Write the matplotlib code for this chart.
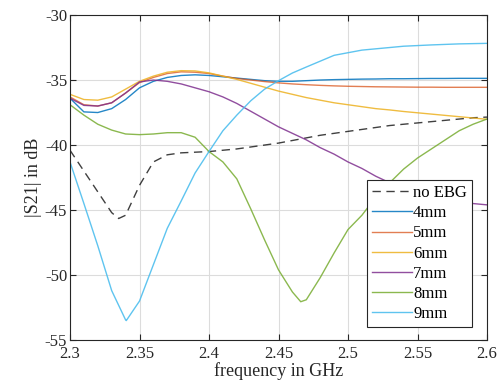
import matplotlib
matplotlib.use("Agg")
import matplotlib.pyplot as plt
import numpy as np

# frequency grid (GHz) and |S21| readings (dB)
freq = [2.30, 2.31, 2.32, 2.33, 2.34, 2.35, 2.36, 2.37, 2.38, 2.39, 2.40,
        2.41, 2.42, 2.43, 2.44, 2.45, 2.46, 2.47, 2.48, 2.49, 2.50,
        2.51, 2.52, 2.53, 2.54, 2.55, 2.56, 2.57, 2.58, 2.59, 2.60]

no_ebg_f = [2.30, 2.31, 2.32, 2.33, 2.335, 2.34, 2.35, 2.36, 2.37, 2.38, 2.39, 2.40,
            2.41, 2.42, 2.43, 2.44, 2.45, 2.46, 2.47, 2.48, 2.49, 2.50,
            2.51, 2.52, 2.53, 2.54, 2.55, 2.56, 2.57, 2.58, 2.59, 2.60]
no_ebg = [-40.4, -42.0, -43.6, -45.2, -45.65, -45.4, -43.1, -41.3, -40.75, -40.6, -40.55, -40.5,
          -40.4, -40.3, -40.15, -40.0, -39.85, -39.65, -39.45, -39.25, -39.1, -38.95,
          -38.8, -38.65, -38.5, -38.4, -38.3, -38.2, -38.1, -38.0, -37.9, -37.85]

s4 = [-36.4, -37.45, -37.5, -37.2, -36.5, -35.6, -35.1, -34.8, -34.65, -34.6, -34.65,
      -34.75, -34.85, -34.95, -35.05, -35.1, -35.1, -35.05, -35.0, -34.97, -34.95,
      -34.93, -34.92, -34.9, -34.9, -34.89, -34.88, -34.88, -34.87, -34.87, -34.87]
s5 = [-36.3, -36.9, -37.0, -36.75, -36.0, -35.2, -34.8, -34.5, -34.37, -34.4, -34.5,
      -34.7, -34.88, -35.0, -35.12, -35.22, -35.3, -35.36, -35.41, -35.45, -35.48,
      -35.5, -35.52, -35.53, -35.54, -35.55, -35.55, -35.56, -35.56, -35.56, -35.56]
s6 = [-36.1, -36.5, -36.55, -36.3, -35.7, -35.1, -34.7, -34.4, -34.28, -34.3, -34.45,
      -34.7, -34.95, -35.25, -35.55, -35.85, -36.1, -36.35, -36.55, -36.75, -36.9,
      -37.05, -37.2, -37.3, -37.42, -37.52, -37.62, -37.72, -37.82, -37.92, -38.02]
s7 = [-36.4, -36.95, -37.0, -36.75, -36.0, -35.15, -35.0, -35.1, -35.3, -35.6, -35.9,
      -36.3, -36.8, -37.4, -38.0, -38.6, -39.1, -39.6, -40.2, -40.7, -41.3,
      -41.8, -42.4, -42.9, -43.3, -43.6, -43.85, -44.1, -44.3, -44.5, -44.6]

s8_f = [2.30, 2.31, 2.32, 2.33, 2.34, 2.35, 2.36, 2.37, 2.38, 2.39, 2.40,
        2.41, 2.42, 2.43, 2.44, 2.45, 2.46, 2.466, 2.47, 2.48, 2.49, 2.50,
        2.51, 2.52, 2.53, 2.54, 2.55, 2.56, 2.57, 2.58, 2.59, 2.60]
s8 = [-36.9, -37.7, -38.4, -38.85, -39.15, -39.2, -39.15, -39.05, -39.05, -39.4, -40.5,
      -41.3, -42.6, -44.9, -47.3, -49.6, -51.3, -52.05, -51.9, -50.2, -48.3, -46.5,
      -45.4, -44.0, -42.9, -41.85, -41.0, -40.3, -39.6, -38.9, -38.4, -38.0]

s9_f = [2.30, 2.31, 2.32, 2.33, 2.34, 2.3405, 2.35, 2.36, 2.37, 2.38, 2.39, 2.40,
        2.41, 2.42, 2.43, 2.44, 2.45, 2.46, 2.47, 2.48, 2.49, 2.50,
        2.51, 2.52, 2.53, 2.54, 2.55, 2.56, 2.57, 2.58, 2.59, 2.60]
s9 = [-41.3, -44.5, -47.75, -51.2, -53.45, -53.5, -52.0, -49.2, -46.4, -44.3, -42.15, -40.5,
      -38.9, -37.7, -36.6, -35.7, -35.05, -34.46, -34.0, -33.55, -33.1, -32.9,
      -32.7, -32.6, -32.5, -32.4, -32.35, -32.3, -32.26, -32.22, -32.2, -32.18]

plt.rcParams['font.family'] = 'Liberation Serif'
plt.rcParams['axes.unicode_minus'] = False

fig = plt.figure(figsize=(5, 3.9), dpi=100)
ax = fig.add_axes([0.14, 0.128, 0.834, 0.8335])

lw = 1.0
ax.plot(no_ebg_f, no_ebg, color='black', ls=(0, (6, 4)), lw=lw, alpha=0.75, label='no EBG')
ax.plot(freq, s4, color='#0072BD', lw=lw, alpha=0.85, label='4mm')
ax.plot(freq, s5, color='#D95319', lw=lw, alpha=0.75, label='5mm')
ax.plot(freq, s6, color='#EDB120', lw=lw, alpha=0.85, label='6mm')
ax.plot(freq, s7, color='#7E2F8E', lw=lw, alpha=0.85, label='7mm')
ax.plot(s8_f, s8, color='#77AC30', lw=lw, alpha=0.85, label='8mm')
ax.plot(s9_f, s9, color='#4DBEEE', lw=lw, alpha=0.9, label='9mm')

ax.set_xlim(2.3, 2.6)
ax.set_ylim(-55, -30)
ax.set_xticks([2.3, 2.35, 2.4, 2.45, 2.5, 2.55, 2.6])
ax.set_xticklabels(['2.3', '2.35', '2.4', '2.45', '2.5', '2.55', '2.6'])
ax.set_yticks([-55, -50, -45, -40, -35, -30])
ax.grid(True, color='#dcdcdc', lw=0.8)
ax.set_axisbelow(True)
ax.tick_params(direction='in', top=True, right=True, length=4, width=0.8,
               colors='#262626', labelsize=12, pad=2)
ax.tick_params(axis='x', pad=4)
for sp in ax.spines.values():
    sp.set_color('#262626')
    sp.set_linewidth(0.8)

ax.set_xlabel('frequency in GHz', fontsize=13, color='#262626', labelpad=0)
ax.set_ylabel('|S21| in dB', fontsize=13, color='#262626', labelpad=2)

leg = ax.legend(loc='lower right', bbox_to_anchor=(0.964, 0.04), borderaxespad=0,
                fontsize=12, handlelength=2.4, handletextpad=0.05, labelspacing=0.25,
                borderpad=0.3, fancybox=False, framealpha=1, edgecolor='#262626')
leg.get_frame().set_linewidth(0.8)

fig.savefig('out.png', dpi=100)
